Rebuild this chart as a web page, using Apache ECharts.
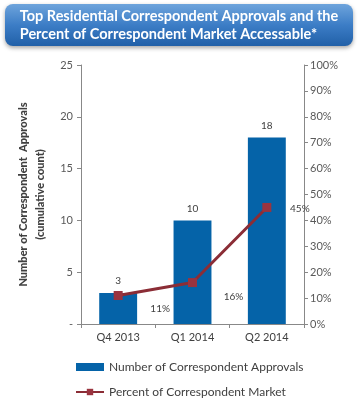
<!DOCTYPE html>
<html><head><meta charset="utf-8">
<script src="https://cdn.jsdelivr.net/npm/echarts@6/dist/echarts.min.js"></script>
<style>html,body{margin:0;padding:0;background:#fff}#c{width:358px;height:403px}</style>
</head><body><div id="c"></div>
<script>
var categories = ['Q4 2013', 'Q1 2014', 'Q2 2014'];
var approvals = [3, 10, 18];
var marketPct = [11, 16, 45];
var leftTicks = [0, 5, 10, 15, 20, 25];
var titleLines = ['Top Residential Correspondent Approvals and the', 'Percent of Correspondent Market Accessable*'];
var seriesNames = ['Number of Correspondent Approvals', 'Percent of Correspondent Market'];
var axisNameLines = ['Number of Correspondent  Approvals', '(cumulative count)'];

var FONT = 'Lato';
var chart = echarts.init(document.getElementById('c'), null, {renderer: 'canvas'});
var pctLabelOffsets = [[42, 13], [41, 14], [33, 1]];
chart.setOption({
  animation: false,
  textStyle: {fontFamily: FONT},
  graphic: [{
    type: 'rect', left: 5, top: 4,
    shape: {width: 348, height: 42, r: 8},
    style: {
      fill: new echarts.graphic.LinearGradient(0, 0, 0, 1, [
        {offset: 0, color: '#6EA4DC'}, {offset: 0.5, color: '#3C7DC6'}, {offset: 1, color: '#2160A8'}
      ]),
      shadowBlur: 4, shadowOffsetY: 2, shadowColor: 'rgba(0,0,0,0.35)'
    }
  }, {
    type: 'text', left: 'center', top: 7,
    style: {text: titleLines.join('\n'), fill: '#fff', font: 'bold 14.5px ' + FONT, lineHeight: 18, align: 'center'}
  }],
  grid: {left: 81, right: 54, top: 65, bottom: 79},
  legend: {
    orient: 'vertical', left: 75, top: 361, itemGap: 13, itemWidth: 28, itemHeight: 8, padding: 0,
    height: 60,
    textStyle: {fontSize: 12, color: '#404040', fontFamily: FONT},
    data: [{name: seriesNames[0], icon: 'rect'}, {name: seriesNames[1]}]
  },
  xAxis: {
    type: 'category', data: categories,
    axisLine: {lineStyle: {color: '#888'}},
    axisTick: {show: true, lineStyle: {color: '#888'}, length: 4},
    axisLabel: {color: '#404040', fontSize: 11, margin: 8}
  },
  yAxis: [{
    type: 'value', min: 0, max: 25, interval: 5,
    name: axisNameLines.join('\n'), nameLocation: 'middle', nameRotate: 90, nameGap: 23,
    nameTextStyle: {fontWeight: 900, fontSize: 11, color: '#404040', lineHeight: 17, fontFamily: FONT},
    axisLine: {show: true, lineStyle: {color: '#888'}},
    axisTick: {show: true, length: 4, lineStyle: {color: '#888'}},
    splitLine: {show: false},
    axisLabel: {color: '#595959', fontSize: 11, margin: 8, formatter: function (v) { return v === 0 ? '-' : v; }}
  }, {
    type: 'value', min: 0, max: 100, interval: 10, position: 'right',
    axisLine: {show: true, lineStyle: {color: '#888'}},
    axisTick: {show: true, length: 4, lineStyle: {color: '#888'}},
    splitLine: {show: false},
    axisLabel: {color: '#595959', fontSize: 11, margin: 6, formatter: '{value}%'}
  }],
  series: [{
    name: seriesNames[0], type: 'bar', data: approvals, barWidth: '51%',
    itemStyle: {color: '#0563A8'},
    label: {show: true, position: 'top', distance: 7, color: '#404040', fontSize: 10}
  }, {
    name: seriesNames[1], type: 'line', yAxisIndex: 1,
    data: marketPct.map(function (v, i) {
      return {value: v, label: {offset: pctLabelOffsets[i]}};
    }),
    symbol: 'rect', symbolSize: 9,
    lineStyle: {color: '#8B2D36', width: 3},
    itemStyle: {color: '#9A343F'},
    label: {show: true, position: 'inside', color: '#404040', fontSize: 10, formatter: '{c}%'},
    z: 5
  }]
});
</script></body></html>
